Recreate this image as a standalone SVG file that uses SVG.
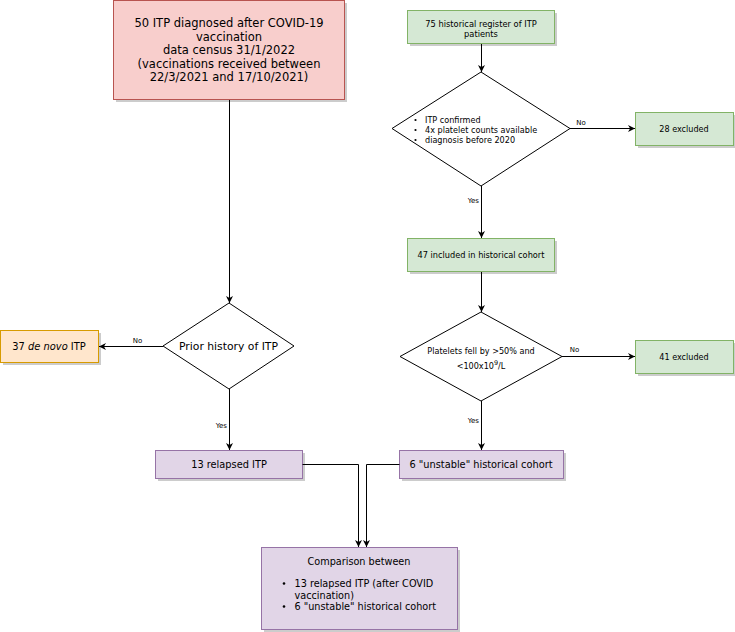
<svg xmlns="http://www.w3.org/2000/svg" width="735" height="632" viewBox="0 0 735 632">
<style>
text{font-family:"DejaVu Sans",Verdana,sans-serif;fill:#000}
.red{fill:#f8cecc;stroke:#b85450;stroke-width:1}
.green{fill:#d5e8d4;stroke:#82b366;stroke-width:1}
.orange{fill:#ffe6cc;stroke:#d79b00;stroke-width:1}
.purple{fill:#e1d5e7;stroke:#9673a6;stroke-width:1}
.dia{fill:#fff;stroke:#000;stroke-width:1}
.sh{fill:#000;opacity:0.2}
.edge{fill:none;stroke:#000;stroke-width:1}
.lbl{font-size:7px}
.c{text-anchor:middle}
</style>
<defs>
<marker id="arr" viewBox="0 0 10 10" refX="10" refY="5" markerWidth="7" markerHeight="7" orient="auto" markerUnits="userSpaceOnUse">
<path d="M0,0 L10,5 L0,10 L3,5 z" fill="#000"/>
</marker>
</defs>
<rect width="735" height="632" fill="#fff"/>

<g id="n-covid">
<rect class="sh" x="116" y="3" width="231" height="99"/>
<rect class="red" x="113.5" y="0.5" width="231" height="99"/>
<text class="c" x="229" y="27" font-size="11.5">50 ITP diagnosed after COVID-19</text>
<text class="c" x="229" y="40.5" font-size="11.5">vaccination</text>
<text class="c" x="229" y="54" font-size="11.5">data census 31/1/2022</text>
<text class="c" x="229" y="67.5" font-size="11.5">(vaccinations received between</text>
<text class="c" x="229" y="81" font-size="11.5">22/3/2021 and 17/10/2021)</text>
</g>

<g id="n-prior">
<polygon class="dia" points="229,303 294,346 229,389 163,346"/>
<text class="c" x="228.5" y="350" font-size="10.8">Prior history of ITP</text>
</g>

<g id="n-denovo">
<rect class="sh" x="3" y="333" width="98" height="32"/>
<rect class="orange" x="0.5" y="330.5" width="98" height="32"/>
<text class="c" x="49" y="350" font-size="9.9">37 <tspan font-style="italic">de novo</tspan> ITP</text>
</g>

<g id="n-relapsed">
<rect class="sh" x="158" y="453" width="147" height="28"/>
<rect class="purple" x="155.5" y="450.5" width="147" height="28"/>
<text class="c" x="229" y="468" font-size="9.8">13 relapsed ITP</text>
</g>

<g id="n-register">
<rect class="sh" x="410" y="13" width="147" height="33"/>
<rect class="green" x="407.5" y="10.5" width="147" height="33"/>
<text class="c" x="481" y="26.5" font-size="8.3">75 historical register of ITP</text>
<text class="c" x="481" y="36.5" font-size="8.3">patients</text>
</g>

<g id="n-criteria">
<polygon class="dia" points="481,72 570,128.5 481,186 392,128.5"/>
<g font-size="8.1">
<circle cx="415.5" cy="120" r="1.1" fill="#000"/>
<circle cx="415.5" cy="130" r="1.1" fill="#000"/>
<circle cx="415.5" cy="140" r="1.1" fill="#000"/>
<text x="425" y="123">ITP confirmed</text>
<text x="425" y="133">4x platelet counts available</text>
<text x="425" y="143">diagnosis before 2020</text>
</g>
</g>

<g id="n-excl28">
<rect class="sh" x="638" y="115" width="98" height="33"/>
<rect class="green" x="635.5" y="112.5" width="98" height="33"/>
<text class="c" x="684" y="132" font-size="8.1">28 excluded</text>
</g>

<g id="n-included">
<rect class="sh" x="410" y="241" width="147" height="33"/>
<rect class="green" x="407.5" y="238.5" width="147" height="33"/>
<text class="c" x="481" y="258" font-size="8.2">47 included in historical cohort</text>
</g>

<g id="n-platelets">
<polygon class="dia" points="481,312 562,356.5 481,401 400,356.5"/>
<text class="c" x="481" y="354" font-size="8.1">Platelets fell by &gt;50% and</text>
<text class="c" x="481" y="369" font-size="8.1">&lt;100x10<tspan baseline-shift="super" font-size="6.5">9</tspan>/L</text>
</g>

<g id="n-excl41">
<rect class="sh" x="638" y="343" width="98" height="33"/>
<rect class="green" x="635.5" y="340.5" width="98" height="33"/>
<text class="c" x="684" y="360" font-size="8.1">41 excluded</text>
</g>

<g id="n-unstable">
<rect class="sh" x="402" y="453" width="164" height="28"/>
<rect class="purple" x="399.5" y="450.5" width="164" height="28"/>
<text class="c" x="481" y="468" font-size="9.8">6 "unstable" historical cohort</text>
</g>

<g id="n-compare">
<rect class="sh" x="264" y="550" width="196" height="82"/>
<rect class="purple" x="261.5" y="547.5" width="196" height="82"/>
<g font-size="9.7">
<text class="c" x="359" y="565">Comparison between</text>
<circle cx="284" cy="583.5" r="1.3" fill="#000"/>
<circle cx="284" cy="606.5" r="1.3" fill="#000"/>
<text x="294.5" y="587">13 relapsed ITP (after COVID</text>
<text x="294.5" y="598.5">vaccination)</text>
<text x="294.5" y="610">6 "unstable" historical cohort</text>
</g>
</g>

<g id="connectors">
<path class="edge" d="M229.5,100 V303" marker-end="url(#arr)"/>
<path class="edge" d="M163,346.5 H99" marker-end="url(#arr)"/>
<text class="lbl c" x="137.5" y="342.5">No</text>
<path class="edge" d="M229.5,389 V450" marker-end="url(#arr)"/>
<text class="lbl" x="227" y="427.5" text-anchor="end">Yes</text>
<path class="edge" d="M302.5,464.5 H358.5 V547" marker-end="url(#arr)"/>
<path class="edge" d="M399.5,464.5 H366.5 V547" marker-end="url(#arr)"/>
<path class="edge" d="M481.5,44 V72" marker-end="url(#arr)"/>
<path class="edge" d="M570,128.5 H635" marker-end="url(#arr)"/>
<text class="lbl c" x="581" y="124.5">No</text>
<path class="edge" d="M481.5,186 V238" marker-end="url(#arr)"/>
<text class="lbl" x="479" y="202.5" text-anchor="end">Yes</text>
<path class="edge" d="M481.5,272 V312" marker-end="url(#arr)"/>
<path class="edge" d="M562,356.5 H635" marker-end="url(#arr)"/>
<text class="lbl c" x="574.5" y="352">No</text>
<path class="edge" d="M481.5,401 V450" marker-end="url(#arr)"/>
<text class="lbl" x="479" y="422.5" text-anchor="end">Yes</text>
</g>
</svg>
